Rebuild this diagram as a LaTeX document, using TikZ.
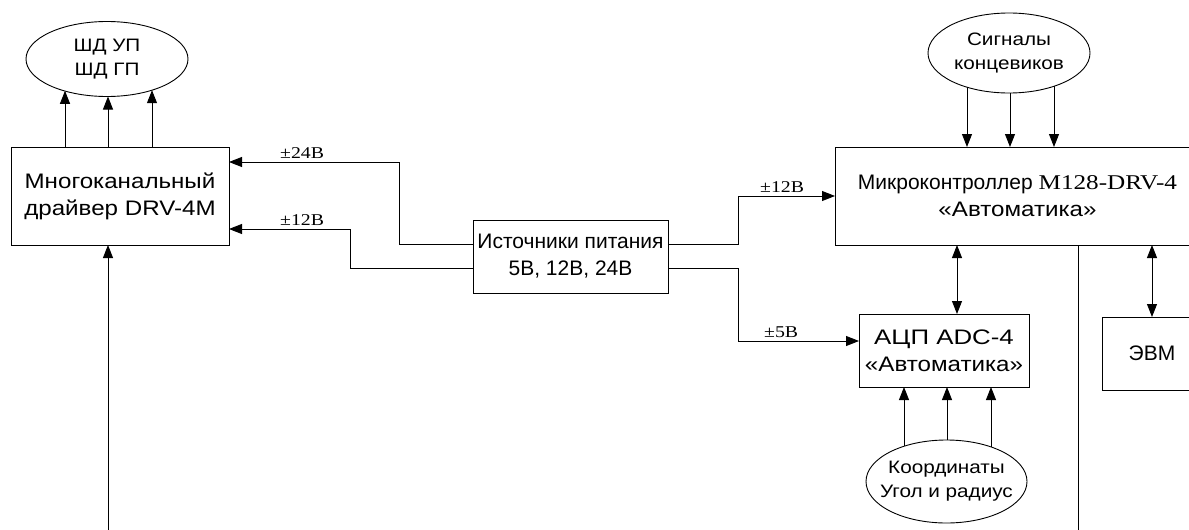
\documentclass[tikz,border=0pt]{standalone}
\usepackage{fontspec}
\setmainfont{Liberation Sans}
\newfontfamily\wsans{Liberation Sans}[FakeStretch=1.15]
\newfontfamily\wwsans{Liberation Sans}[FakeStretch=1.23]
\newfontfamily\wtms{Liberation Serif}[FakeStretch=1.2]
\newcommand\zb[1]{\makebox[0pt]{#1}}
\usetikzlibrary{arrows.meta,shapes.geometric,calc}
\begin{document}
\begin{tikzpicture}[x=1pt,y=-1pt,
  box/.style={draw, line width=0.9pt, rectangle, inner sep=0pt, outer sep=0pt, align=center, font=\fontsize{21}{27}\selectfont},
  ell/.style={draw, line width=0.9pt, ellipse, inner sep=0pt, outer sep=0pt, align=center, font=\wsans\fontsize{18}{24}\selectfont},
  arr/.style={line width=0.9pt, -{Triangle[length=13pt,width=10pt]}},
  darr/.style={line width=0.9pt, {Triangle[length=13pt,width=10pt]}-{Triangle[length=13pt,width=10pt]}},
  ln/.style={line width=0.9pt},
  lbl/.style={font=\wtms\fontsize{16.5}{18}\selectfont, inner sep=0pt, anchor=base west}]
\useasboundingbox (0,0) rectangle (1189,530);
% nodes
\node[ell, minimum width=162pt, minimum height=75pt] (sd) at (107,59) {\zb{ШД УП}\\\zb{ШД ГП}};
\node[box, minimum width=218pt, minimum height=98pt, font=\wsans\fontsize{21}{27}\selectfont] (drv) at (120,196) {Многоканальный\\драйвер DRV-4M};
\node[box, minimum width=195pt, minimum height=73pt] (pwr) at (570.5,256.5) {Источники питания\\5В, 12В, 24В};
\node[box, minimum width=365pt, minimum height=98pt] (mc) at (1017.5,196) {Микроконтроллер {\wtms M128-DRV-4}\\{\wsans «Автоматика»}};
\node[ell, minimum width=162pt, minimum height=80pt] (sig) at (1009,53) {\zb{Сигналы}\\\zb{концевиков}};
\node[box, minimum width=170pt, minimum height=73pt] (adc) at (944,350.5) {{\wwsans АЦП ADC-4}\\{\wsans «Автоматика»}};
\node[ell, minimum width=161pt, minimum height=83pt] (koord) at (946.5,481.5) {\zb{Координаты}\\\zb{Угол и радиус}};
\node[box, minimum width=100pt, minimum height=73pt] (evm) at (1152,353.5) {ЭВМ};
% drv -> sd
\coordinate (d1) at ($(sd.center)+(-42,31.8)$);
\coordinate (d2) at ($(sd.center)+(1,37.5)$);
\coordinate (d3) at ($(sd.center)+(45,31.2)$);
\foreach \c in {d1,d2,d3} \draw[arr] (\c |- drv.north) -- (\c);
% sig -> mc
\coordinate (s1) at ($(sig.center)+(-42,34.2)$);
\coordinate (s2) at ($(sig.center)+(1,40)$);
\coordinate (s3) at ($(sig.center)+(45,33.3)$);
\foreach \c in {s1,s2,s3} \draw[arr] (\c) -- (\c |- mc.north);
% koord -> adc
\coordinate (c1) at ($(koord.center)+(-42.5,-35.2)$);
\coordinate (c2) at ($(koord.center)+(0.5,-41.5)$);
\coordinate (c3) at ($(koord.center)+(44.5,-34.6)$);
\foreach \c in {c1,c2,c3} \draw[arr] (\c) -- (\c |- adc.south);
% power lines
\coordinate (p1) at ($(pwr.west)+(0,-12.5)$);
\coordinate (p2) at ($(pwr.west)+(0,11.5)$);
\coordinate (p3) at ($(pwr.east)+(0,-12.5)$);
\coordinate (p4) at ($(pwr.east)+(0,11.5)$);
\coordinate (k1) at (399,162);
\coordinate (k2) at (350,229);
\coordinate (k3) at (738,196);
\coordinate (k4) at (738,341);
\draw[arr] (p1) -| (k1) -- (k1 -| drv.east);
\draw[arr] (p2) -| (k2) -- (k2 -| drv.east);
\draw[arr] (p3) -| (k3) -- (k3 -| mc.west);
\draw[arr] (p4) -| (k4) -- (k4 -| adc.west);
\node[lbl] (l1) at (280,158) {±24В};
\node[lbl] (l2) at (280,225.5) {±12В};
\node[lbl] (l3) at (760,192.5) {±12В};
\node[lbl] (l4) at (764,337.5) {±5В};
% mc links
\coordinate (m1) at (957,0);
\draw[darr] (m1 |- mc.south) -- (m1 |- adc.north);
\coordinate (m2) at (1078,530);
\draw[ln] (m2 |- mc.south) -- (m2);
\draw[darr] (evm.north |- mc.south) -- (evm.north);
% bottom input
\coordinate (b1) at (108,530);
\draw[arr] (b1) -- (b1 |- drv.south);
\end{tikzpicture}
\end{document}
